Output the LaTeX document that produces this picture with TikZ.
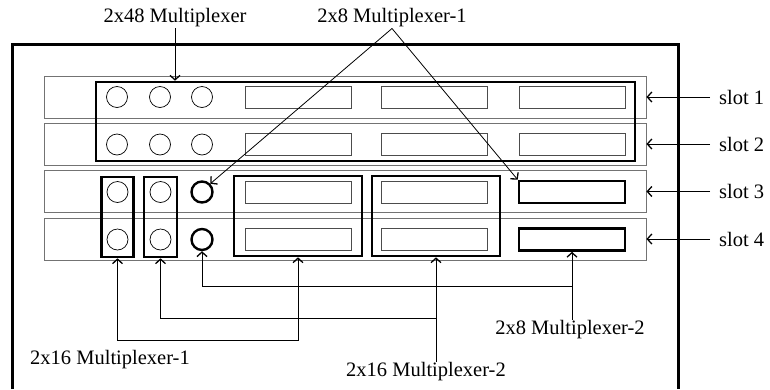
\documentclass[tikz,border=0pt]{standalone}
\usepackage{fontspec}
\setmainfont{Liberation Serif}
\usetikzlibrary{positioning, arrows.meta}

\begin{document}
\begin{tikzpicture}[x=1pt, y=-1pt,
        slotbox/.style={draw=black!55, line width=0.9pt, minimum width=602pt, minimum height=42pt, inner sep=0pt},
        port/.style={draw, circle, minimum size=21pt, inner sep=0pt, line width=0.7pt},
        hotport/.style={port, line width=2.4pt},
        card/.style={draw=black!70, line width=0.9pt, minimum width=106pt, minimum height=22pt, inner sep=0pt},
        hotcard/.style={card, draw=black, line width=2.6pt},
        mux/.style={draw, line width=2.6pt, inner sep=0pt},
        lbl/.style={font=\fontsize{20.5}{24}\selectfont, inner sep=1pt},
        slotlbl/.style={lbl, anchor=west, inner xsep=9pt},
      link/.style={<->, >={Straight Barb[length=4.5pt,width=10pt,line width=1.3pt]}, line width=0.8pt}]
      \useasboundingbox (0,0) rectangle (770,389);
      \draw[line width=3pt] (12,389) |- (678,44) -- (678,389);

      \foreach \i/\y in {1/97, 2/144, 3/191.5, 4/239}
        \node[slotbox] (slot\i) at (345,\y) {};

      % slots 1 and 2
      \foreach \i/\y in {1/97, 2/144.5} {
        \node[port] (p\i a) at (117,\y) {};
        \node[port] (p\i b) at (160,\y) {};
        \node[port] (p\i c) at (202,\y) {};
        \node[card] (c\i a) at (298,\y) {};
        \node[card] (c\i b) at (434.5,\y) {};
        \node[card] (c\i c) at (572,\y) {};
      }
      % slots 3 and 4
      \foreach \i/\y in {3/192, 4/239.5} {
        \node[port] (p\i a) at (117.5,\y) {};
        \node[port] (p\i b) at (160.5,\y) {};
        \node[hotport] (p\i c) at (202,\y) {};
        \node[card] (c\i a) at (298,\y) {};
        \node[card] (c\i b) at (434.5,\y) {};
        \node[hotcard] (c\i c) at (572,\y) {};
      }

      \node[mux, minimum width=539pt, minimum height=79pt] (mux48) at (365.5,121.5) {};
      \node[mux, minimum width=32pt, minimum height=80pt] (muxA) at (117.5,217) {};
      \node[mux, minimum width=33pt, minimum height=80pt] (muxB) at (160.5,217) {};
      \node[mux, minimum width=128pt, minimum height=80pt] (muxC) at (298,216) {};
      \node[mux, minimum width=128pt, minimum height=80pt] (muxD) at (436,216) {};

      \node[lbl] (l48) at (175,18) {2x48 Multiplexer};
      \node[lbl] (l8a) at (392,18) {2x8 Multiplexer-1};
      \node[lbl] (l16a) at (110,360) {2x16 Multiplexer-1};
      \node[lbl] (l16b) at (426,372) {2x16 Multiplexer-2};
      \node[lbl] (l8b) at (570,330) {2x8 Multiplexer-2};
      \foreach \i in {1,...,4}
        \node[slotlbl] (s\i) at (slot\i.east -| 710,0) {slot \i};

      \draw[link, ->] (l48.south) -- (l48.south |- mux48.north);
      \draw[link, ->] (l8a.south) -- (p3c.north east);
      \draw[link, ->] (l8a.south) -- (c3c.north west);
      \foreach \i in {1,...,4}
        \draw[link, ->] (s\i.west) -- (slot\i.east);

      \coordinate (j1) at (298,340);
      \coordinate (j2) at (436,318);
      \coordinate (j3) at (572,286);
      \draw[link] (muxA.south) |- (j1) -- (muxC.south);
      \draw[link] (muxB.south) |- (j2) -- (muxD.south);
      \draw[link] (p4c.south) |- (j3) -- (c4c.south);
      \draw[line width=0.8pt] (j2) -- (j2 |- l16b.north);
      \draw[line width=0.8pt] (j3) -- (j3 |- l8b.north);
    \end{tikzpicture}
\end{document}
